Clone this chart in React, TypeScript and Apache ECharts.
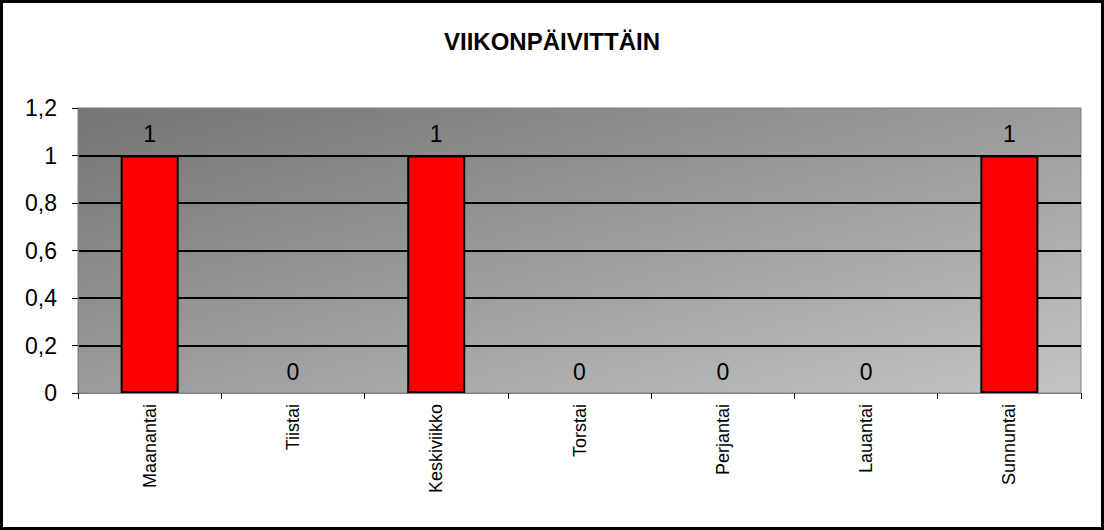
import { useEffect, useRef } from 'react'
import * as echarts from 'echarts'

const TITLE = 'VIIKONPÄIVITTÄIN'
const days = ['Maanantai', 'Tiistai', 'Keskiviikko', 'Torstai', 'Perjantai', 'Lauantai', 'Sunnuntai']
const counts = [1, 0, 1, 0, 0, 0, 1]
const yTicks = [0, 0.2, 0.4, 0.6, 0.8, 1, 1.2]

const FONT = '"Liberation Sans", Arial, sans-serif'

export default function App() {
  const ref = useRef<HTMLDivElement>(null)

  useEffect(() => {
    if (!ref.current) return
    const chart = echarts.init(ref.current, undefined, { renderer: 'svg' })

    const option: echarts.EChartsOption = {
      animation: false,
      backgroundColor: '#fff',
      title: {
        text: TITLE,
        left: 'center',
        top: 24,
        textStyle: { fontFamily: FONT, fontSize: 24, fontWeight: 'bold', color: '#000' },
      },
      graphic: [
        {
          type: 'rect',
          shape: { x: 1.5, y: 1.5, width: 1101, height: 527 },
          style: { fill: 'none', stroke: '#000', lineWidth: 3 },
          silent: true,
        },
      ],
      grid: {
        left: 78,
        right: 23,
        top: 108,
        bottom: 137,
        show: true,
        borderColor: '#808080',
        borderWidth: 1,
        backgroundColor: new echarts.graphic.LinearGradient(0, 0, 1, 1, [
          { offset: 0, color: '#747474' },
          { offset: 1, color: '#c4c4c4' },
        ]),
      },
      xAxis: {
        type: 'category',
        data: days,
        axisLine: { lineStyle: { color: '#808080', width: 1 } },
        axisTick: { show: true, interval: 0, length: 6, lineStyle: { color: '#000' } },
        axisLabel: {
          interval: 0,
          rotate: 90,
          margin: 11,
          fontFamily: FONT,
          fontSize: 18,
          color: '#000',
        },
      },
      yAxis: {
        type: 'value',
        min: yTicks[0],
        max: yTicks[yTicks.length - 1],
        interval: 0.2,
        axisLine: { show: true, lineStyle: { color: '#808080', width: 1 } },
        axisTick: { show: true, length: 6, lineStyle: { color: '#000' } },
        axisLabel: {
          margin: 21,
          fontFamily: FONT,
          fontSize: 23,
          color: '#000',
          formatter: (v: number) => String(Math.round(v * 10) / 10).replace('.', ','),
        },
        splitLine: {
          show: true,
          showMinLine: false,
          showMaxLine: false,
          lineStyle: { color: '#000', width: 2 },
        },
      },
      series: [
        {
          type: 'bar',
          data: counts.map((v) => ({
            value: v,
            itemStyle: v === 0 ? { borderWidth: 0 } : undefined,
          })),
          barWidth: 58,
          itemStyle: { color: '#ff0000', borderColor: '#000', borderWidth: 2 },
          label: {
            show: true,
            position: 'top',
            distance: 10,
            fontFamily: FONT,
            fontSize: 23,
            color: '#000',
          },
        },
      ],
    }

    chart.setOption(option)
    return () => chart.dispose()
  }, [])

  return (
    <div
      ref={ref}
      style={{ position: 'fixed', left: 0, top: 0, width: 1104, height: 530 }}
    />
  )
}
